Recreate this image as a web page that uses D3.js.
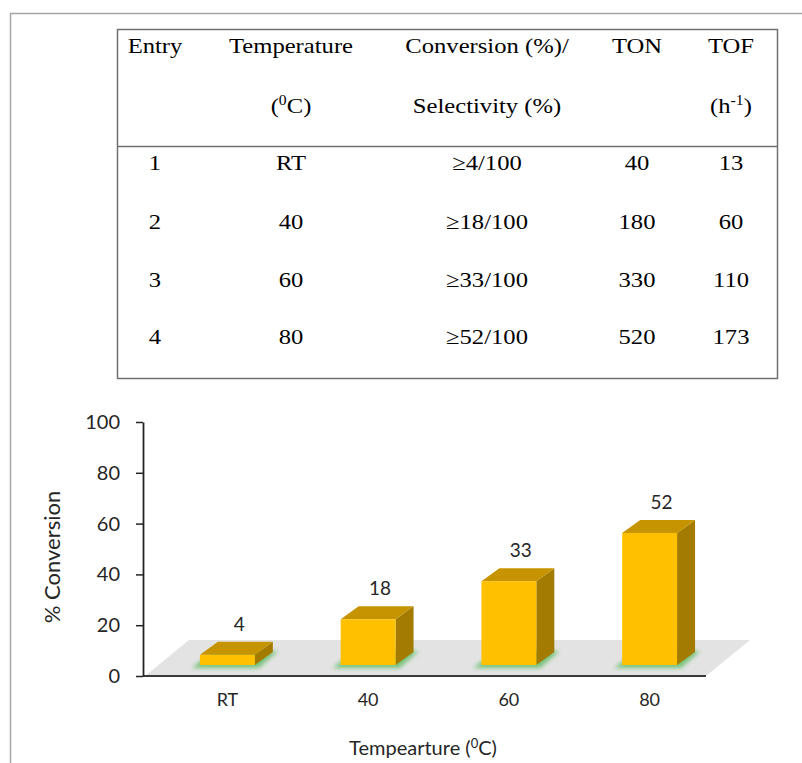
<!DOCTYPE html>
<html><head><meta charset="utf-8">
<script src="https://cdn.jsdelivr.net/npm/d3@7"></script>
<style>
html,body{margin:0;padding:0;background:#fff;}
svg{display:block;}
</style></head><body>
<svg id="fig" width="802" height="763"></svg>
<script>
// ---- data ----
const categories = ["RT", "40", "60", "80"];
const conversion = [4, 18, 33, 52];
const selectivity = [100, 100, 100, 100];
const entries = [1, 2, 3, 4];
const ton = [40, 180, 330, 520];
const tof = [13, 60, 110, 173];
const yTicks = [0, 20, 40, 60, 80, 100];
const headerTop = ["Entry", "Temperature", "Conversion (%)/", "TON", "TOF"];
const headerBottom = ["", "(^{0}C)", "Selectivity (%)", "", "(h^{-1})"];
const yTitle = "% Conversion";
const xTitle = "Tempearture (^{0}C)";

const svg = d3.select("#fig");

// writes text with ^{...} superscript segments as tspans
function rich(textSel, str, supSize, lift) {
  const parts = str.split(/(\^\{[^}]*\})/).filter(s => s.length);
  let raised = false;
  parts.forEach(p => {
    if (p.startsWith("^{")) {
      textSel.append("tspan").attr("font-size", supSize).attr("dy", -lift).text(p.slice(2, -1));
      raised = true;
    } else {
      const t = textSel.append("tspan").text(p);
      if (raised) { t.attr("dy", lift); raised = false; }
    }
  });
}

// page frame
svg.append("path").attr("d", "M10.5,763 V13.5 H802")
  .attr("fill", "none").attr("stroke", "#a6a6a6").attr("stroke-width", 1.5);

// ---- table ----
const tbl = { x0: 117.5, x1: 777.5, y0: 29.5, y1: 378.5, rule: 146.5 };
const colX = [155, 291, 487, 637, 731];
const headY = [53, 113];
const rowY = [170, 229, 287, 344];
const tableFont = "'Liberation Serif', 'Times New Roman', serif";
const stretch = 1.12;

const tg = svg.append("g");
tg.append("rect").attr("x", tbl.x0).attr("y", tbl.y0)
  .attr("width", tbl.x1 - tbl.x0).attr("height", tbl.y1 - tbl.y0)
  .attr("fill", "none").attr("stroke", "#707070").attr("stroke-width", 1.5);
tg.append("line").attr("x1", tbl.x0).attr("x2", tbl.x1).attr("y1", tbl.rule).attr("y2", tbl.rule)
  .attr("stroke", "#707070").attr("stroke-width", 1.5);

function cell(x, y, str) {
  const t = tg.append("text")
    .attr("transform", `translate(${x},${y}) scale(${stretch},1)`)
    .attr("text-anchor", "middle")
    .attr("font-family", tableFont).attr("font-size", 22).attr("fill", "#000");
  rich(t, str, 14, 8);
}
headerTop.forEach((h, i) => cell(colX[i], headY[0], h));
headerBottom.forEach((h, i) => { if (h) cell(colX[i], headY[1], h); });
const rows = entries.map((e, i) => [
  String(e), categories[i], `≥${conversion[i]}/${selectivity[i]}`, String(ton[i]), String(tof[i])
]);
rows.forEach((r, j) => r.forEach((c, i) => cell(colX[i], rowY[j], c)));

// ---- 3D column chart ----
const x = d3.scaleBand().domain(categories).range([143, 706])
  .paddingInner(0.61).paddingOuter(0.305);
const y = d3.scaleLinear().domain([0, 100]).range([676, 422]);
const base = { dx: 14, dy: -11 };   // bar row sits mid-way into the floor
const depth = { dx: 18, dy: -13 };  // bar depth
const floorD = { dx: 44, dy: -36 }; // floor depth
const chartFont = "Lato, 'Open Sans', sans-serif";
const ink = "#262626";

const defs = svg.append("defs");
defs.append("filter").attr("id", "glow").attr("x", "-30%").attr("y", "-80%").attr("width", "160%").attr("height", "260%")
  .append("feGaussianBlur").attr("stdDeviation", 2.2);

const cg = svg.append("g");
const [r0, r1] = x.range();
const poly = pts => pts.map(p => p.join(",")).join(" ");

// floor
cg.append("polygon")
  .attr("points", poly([[r0 + 2, y(0)], [r1, y(0)], [r1 + floorD.dx, y(0) + floorD.dy], [r0 + 2 + floorD.dx, y(0) + floorD.dy]]))
  .attr("fill", "#e3e3e3");

const bars = categories.map((c, i) => {
  const bx = x(c) + base.dx, bw = x.bandwidth();
  const yb = y(0) + base.dy, yt = y(conversion[i]) + base.dy;
  return { c, v: conversion[i], bx, bw, yb, yt };
});

// soft green shadow under each column
cg.selectAll("polygon.glow").data(bars).join("polygon").attr("class", "glow")
  .attr("points", d => poly([
    [d.bx - 8, d.yb + 3], [d.bx + d.bw + 4, d.yb + 3],
    [d.bx + d.bw + depth.dx + 5, d.yb + depth.dy - 1], [d.bx + depth.dx - 4, d.yb + depth.dy - 1]]))
  .attr("fill", "#6cbf70").attr("opacity", 0.9).attr("filter", "url(#glow)");

// column faces
const bg = cg.selectAll("g.bar").data(bars).join("g").attr("class", "bar");
bg.append("polygon").attr("fill", "#a27b00")
  .attr("points", d => poly([[d.bx + d.bw, d.yb], [d.bx + d.bw + depth.dx, d.yb + depth.dy],
    [d.bx + d.bw + depth.dx, d.yt + depth.dy], [d.bx + d.bw, d.yt]]));
bg.append("polygon").attr("fill", "#c69400")
  .attr("points", d => poly([[d.bx, d.yt], [d.bx + d.bw, d.yt],
    [d.bx + d.bw + depth.dx, d.yt + depth.dy], [d.bx + depth.dx, d.yt + depth.dy]]));
bg.append("rect").attr("fill", "#ffc000")
  .attr("x", d => d.bx).attr("y", d => d.yt).attr("width", d => d.bw).attr("height", d => d.yb - d.yt);

// value labels
cg.selectAll("text.val").data(bars).join("text").attr("class", "val")
  .attr("x", d => d.bx + d.bw / 2 + depth.dx / 2 + 3)
  .attr("y", d => d.yt + depth.dy - 11)
  .attr("text-anchor", "middle").attr("font-family", chartFont).attr("font-size", 19).attr("fill", ink)
  .text(d => d.v);

// x axis line and category labels
cg.append("line").attr("x1", r0).attr("x2", r1).attr("y1", y(0)).attr("y2", y(0))
  .attr("stroke", "#3a3a3a").attr("stroke-width", 2);
cg.selectAll("text.cat").data(bars).join("text").attr("class", "cat")
  .attr("x", d => d.bx + d.bw / 2).attr("y", y(0) + 30)
  .attr("text-anchor", "middle").attr("font-family", chartFont).attr("font-size", 18).attr("fill", ink)
  .text(d => d.c);

// y axis
const ya = cg.append("g").attr("transform", `translate(${r0},0)`)
  .call(d3.axisLeft(y).tickValues(yTicks).tickSize(7).tickPadding(16).tickSizeOuter(0));
ya.select(".domain").attr("stroke", "#222").attr("stroke-width", 1.8);
ya.selectAll(".tick line").attr("stroke", "#222").attr("stroke-width", 1.5);
ya.selectAll(".tick text").attr("font-family", chartFont).attr("font-size", 20).attr("fill", ink);

// axis titles
const yt = cg.append("text").attr("transform", "translate(60,557) rotate(-90)")
  .attr("text-anchor", "middle").attr("font-family", chartFont).attr("font-size", 22).attr("fill", ink);
rich(yt, yTitle, 14, 7);
const xt = cg.append("text").attr("x", 423).attr("y", 755)
  .attr("text-anchor", "middle").attr("font-family", chartFont).attr("font-size", 20).attr("fill", ink);
rich(xt, xTitle, 13, 7);
</script>
</body></html>
